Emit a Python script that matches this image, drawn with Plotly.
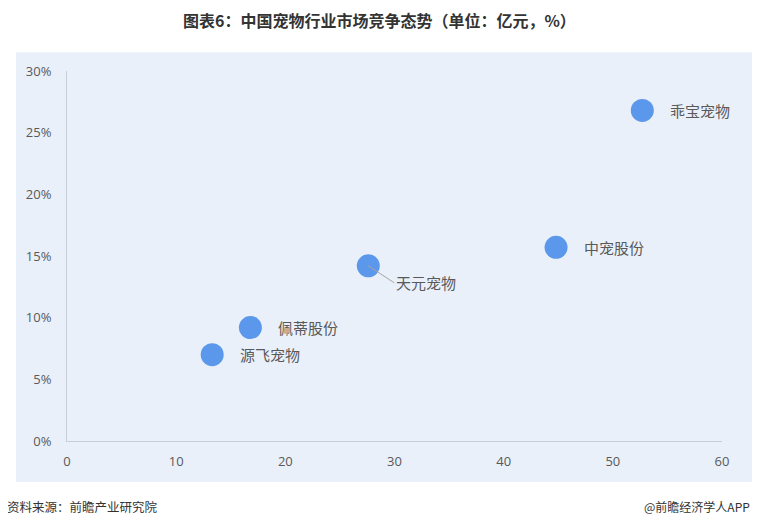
import plotly.graph_objects as go

companies = ["乖宝宠物", "中宠股份", "天元宠物", "佩蒂股份", "源飞宠物"]
revenue = [52.7, 44.8, 27.6, 16.8, 13.3]      # 亿元
share = [26.8, 15.7, 14.2, 9.2, 7.0]          # %
x_ticks = [0, 10, 20, 30, 40, 50, 60]
y_ticks = [0, 5, 10, 15, 20, 25, 30]
y_tick_labels = [f"{v}%" for v in y_ticks]

label_offsets = {  # pixel offsets (ax, ay) for the labels
    "乖宝宠物": (26, 0),
    "中宠股份": (26, 0),
    "天元宠物": (26, 17),
    "佩蒂股份": (26, 0),
    "源飞宠物": (26, 0),
}

font_cjk = "Noto Sans CJK SC"
tick_col = "#595959"

fig = go.Figure()
fig.add_trace(go.Scatter(
    x=revenue, y=share, mode="markers",
    marker=dict(size=23, color="#5B97EA", line=dict(width=0)),
    hoverinfo="skip", showlegend=False,
))

for name, xv, yv in zip(companies, revenue, share):
    ax, ay = label_offsets[name]
    leader = name == "天元宠物"
    fig.add_annotation(
        x=xv, y=yv, xref="x", yref="y", text=name,
        showarrow=True, arrowhead=0, arrowwidth=1,
        arrowcolor="#A6A6A6" if leader else "rgba(0,0,0,0)",
        ax=ax, ay=ay, axref="pixel", ayref="pixel",
        xanchor="left", yanchor="middle", standoff=0,
        font=dict(family=font_cjk, size=15, color=tick_col),
    )

# panel background
fig.add_shape(type="rect", xref="paper", yref="paper",
              x0=-0.078, x1=1.049, y0=-0.111, y1=1.051,
              fillcolor="#E9F0FA", line=dict(width=0), layer="below")

fig.add_annotation(text="<b>图表6：中国宠物行业市场竞争态势（单位：亿元，%）</b>",
                   xref="paper", yref="paper", x=(379 - 67) / 655, y=(441 - 20) / 370,
                   xanchor="center", yanchor="middle", showarrow=False,
                   font=dict(family=font_cjk, size=16, color="#333333"))
fig.add_annotation(text="资料来源：前瞻产业研究院",
                   xref="paper", yref="paper", x=(5 - 67) / 655, y=(441 - 506) / 370,
                   xanchor="left", yanchor="middle", showarrow=False,
                   font=dict(family=font_cjk, size=12.5, color="#333333"))
fig.add_annotation(text="@前瞻经济学人APP",
                   xref="paper", yref="paper", x=(752 - 67) / 655, y=(441 - 506) / 370,
                   xanchor="right", yanchor="middle", showarrow=False,
                   font=dict(family=font_cjk, size=12, color="#333333"))

fig.update_layout(
    width=752, height=518,
    margin=dict(l=59, r=38, t=63, b=85),
    paper_bgcolor="white", plot_bgcolor="rgba(0,0,0,0)",
    font=dict(family="Open Sans", color=tick_col),
    xaxis=dict(range=[0, 60], tickvals=x_ticks, showgrid=False, zeroline=False,
               showline=True, linecolor="#C8CED6", linewidth=1, ticks="",
               tickfont=dict(size=13, color=tick_col), ticklabelstandoff=8),
    yaxis=dict(range=[0, 30], tickvals=y_ticks, ticktext=y_tick_labels,
               showgrid=False, zeroline=False,
               showline=True, linecolor="#C8CED6", linewidth=1, ticks="",
               tickfont=dict(size=13, color=tick_col), ticklabelstandoff=12),
)

fig.write_html("out.html")
